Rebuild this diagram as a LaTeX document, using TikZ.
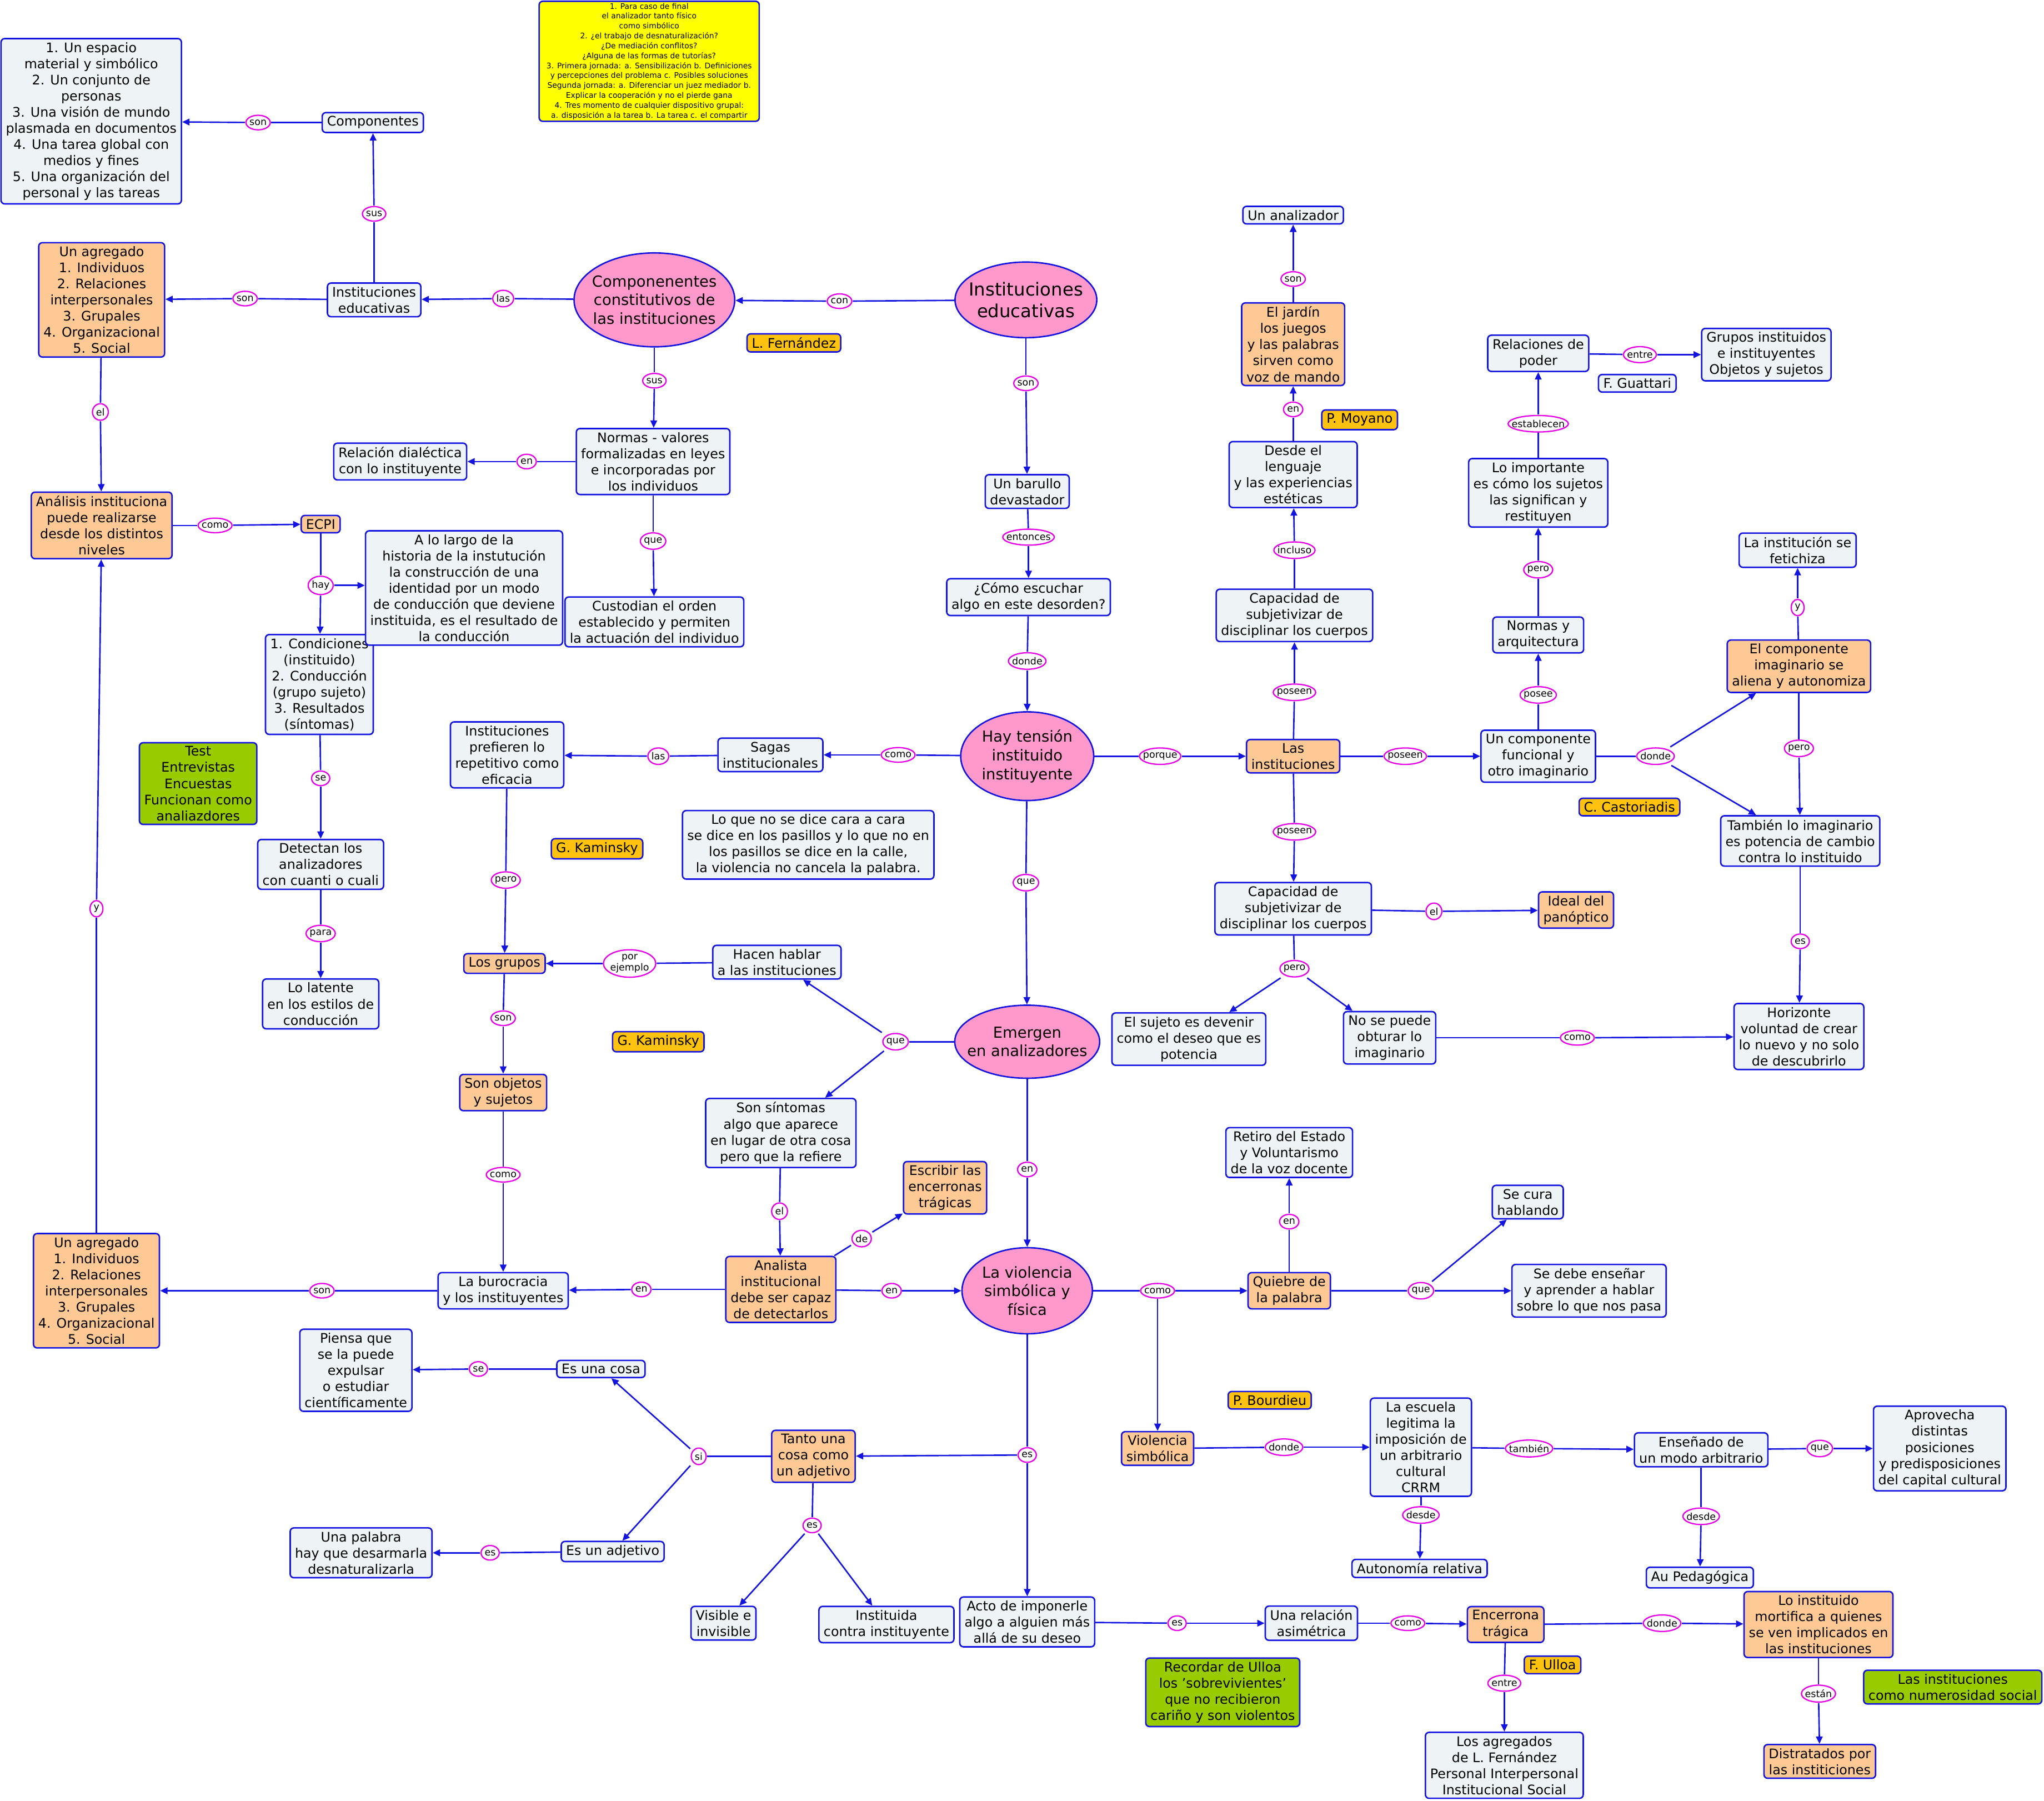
\documentclass[tikz,border=0pt]{standalone}
\usepackage{fontspec}
\setmainfont{DejaVu Sans}
\usepackage{tikz}
\usetikzlibrary{shapes.geometric, arrows.meta, calc}

\definecolor{cmblue}{RGB}{20,20,225}
\definecolor{boxfill}{RGB}{238,243,246}
\definecolor{orangefill}{RGB}{255,201,150}
\definecolor{authorfill}{RGB}{255,194,14}
\definecolor{pinkfill}{RGB}{255,153,204}
\definecolor{greenfill}{RGB}{153,204,0}
\definecolor{notefill}{RGB}{255,255,0}
\definecolor{linkmag}{RGB}{230,0,230}

\begin{document}
\begin{tikzpicture}[
    x=0.025cm, y=-0.025cm,
    >={Triangle[length=4pt,width=3.6pt]},
    cbox/.style={
        draw=cmblue,
        fill=boxfill,
        rounded corners=2pt,
        align=center,
        inner xsep=2.6pt,
        inner ysep=2pt,
        line width=0.8pt,
        font=\fontsize{7.2}{8.8}\selectfont
    },
    obox/.style={cbox, fill=orangefill},
    abox/.style={cbox, fill=authorfill},
    gbox/.style={cbox, fill=greenfill},
    ebox/.style={
        ellipse,
        draw=cmblue,
        fill=pinkfill,
        align=center,
        inner sep=0pt,
        line width=0.8pt,
        font=\fontsize{8.3}{10.2}\selectfont
    },
    lnk/.style={
        rectangle,
        fill=white,
        align=center,
        inner xsep=2.3pt,
        inner ysep=2.8pt,
        font=\fontsize{5.3}{6}\selectfont,
        path picture={
            \draw[draw=linkmag, line width=0.7pt]
            let \p1=(path picture bounding box.north east),
                \p2=(path picture bounding box.center) in
            (\p2) ellipse [x radius={\x1-\x2-0.35pt}, y radius={\y1-\y2-0.35pt}];
        }
    },
    every edge/.style={draw=cmblue, line width=0.8pt}
]
\useasboundingbox (0,0) rectangle (1568,1381);

% upper left
\node[cbox] (esp) at (70,93) {1. Un espacio\\material y simbólico\\2. Un conjunto de\\personas\\3. Una visión de mundo\\plasmada en documentos\\4. Una tarea global con\\medios y fines\\5. Una organización del\\personal y las tareas};
\node[cbox] (comp) at (286,94) {Componentes};
\node[cbox] (ied) at (287,230) {Instituciones\\educativas};
\node[obox] (agr1) at (78,230) {Un agregado\\1. Individuos\\2. Relaciones\\interpersonales\\3. Grupales\\4. Organizacional\\5. Social};
\node[ebox, inner xsep=-3pt, minimum height=1.8cm] (compc) at (502,230) {Componenentes\\constitutivos de\\las instituciones};
\node[ebox, inner xsep=-3.8pt, minimum height=1.45cm, font=\fontsize{9.8}{11.7}\selectfont] (instE) at (787,230) {Instituciones\\educativas};
\node[abox] (lfer) at (609,263) {L. Fernández};
\node[draw=cmblue, fill=notefill, rounded corners=2pt, line width=0.8pt, align=center, inner sep=1pt,
      minimum width=4.22cm, minimum height=2.3cm, font=\fontsize{4.2}{5.4}\selectfont] (nota) at (498,47)
      {1. Para caso de final\\el analizador tanto físico\\como simbólico\\2. ¿el trabajo de desnaturalización?\\¿De mediación conflitos?\\¿Alguna de las formas de tutorías?\\3. Primera jornada: a. Sensibilización b. Definiciones\\y percepciones del problema c. Posibles soluciones\\Segunda jornada: a. Diferenciar un juez mediador b.\\Explicar la cooperación y no el pierde gana\\4. Tres momento de cualquier dispositivo grupal:\\a. disposición a la tarea b. La tarea c. el compartir};
\node[cbox] (normas) at (501,354) {Normas - valores\\formalizadas en leyes\\e incorporadas por\\los individuos};
\node[cbox] (reld) at (307,354) {Relación dialéctica\\con lo instituyente};
\node[cbox] (custod) at (502,477) {Custodian el orden\\establecido y permiten\\la actuación del individuo};
\node[obox] (anal) at (78,403) {Análisis instituciona\\puede realizarse\\desde los distintos\\niveles};
\node[obox] (ecpi) at (246,402) {ECPI};
\node[cbox] (cond) at (245,525) {1. Condiciones\\(instituido)\\2. Conducción\\(grupo sujeto)\\3. Resultados\\(síntomas)};
\node[cbox] (alo) at (356,451) {A lo largo de la\\historia de la instutución\\la construcción de una\\identidad por un modo\\de conducción que deviene\\instituida, es el resultado de\\la conducción};
\node[gbox] (test) at (152,601) {Test\\Entrevistas\\Encuestas\\Funcionan como\\analiazdores};
\node[cbox] (detect) at (246,663) {Detectan los\\analizadores\\con cuanti o cuali};
\node[cbox] (latente) at (246,770) {Lo latente\\en los estilos de\\conducción};
\node[obox] (agr2) at (74,990) {Un agregado\\1. Individuos\\2. Relaciones\\interpersonales\\3. Grupales\\4. Organizacional\\5. Social};

% centre
\node[cbox] (barullo) at (788,377) {Un barullo\\devastador};
\node[cbox] (comoesc) at (789,458) {¿Cómo escuchar\\algo en este desorden?};
\node[ebox, minimum width=2.55cm, minimum height=1.7cm] (tension) at (788,580) {Hay tensión\\instituido\\instituyente};
\node[cbox] (sagas) at (591,579) {Sagas\\institucionales};
\node[cbox] (pref) at (389,579) {Instituciones\\prefieren lo\\repetitivo como\\eficacia};
\node[abox] (gk1) at (458,651) {G. Kaminsky};
\node[cbox] (loque) at (620,648) {Lo que no se dice cara a cara\\se dice en los pasillos y lo que no en\\los pasillos se dice en la calle,\\la violencia no cancela la palabra.};
\node[obox] (grupos) at (387,739) {Los grupos};
\node[cbox] (hacen) at (596,738) {Hacen hablar\\a las instituciones};
\node[ebox, inner xsep=-4.8pt, minimum height=1.4cm] (emergen) at (788,799) {Emergen\\en analizadores};
\node[abox] (gk2) at (505,799) {G. Kaminsky};
\node[obox] (objetos) at (386,838) {Son objetos\\y sujetos};
\node[cbox] (buro) at (386,990) {La burocracia\\y los instituyentes};
\node[cbox] (sint) at (599,869) {Son síntomas\\algo que aparece\\en lugar de otra cosa\\pero que la refiere};
\node[obox] (analista) at (599,989) {Analista\\institucional\\debe ser capaz\\de detectarlos};
\node[obox] (escribir) at (725,911) {Escribir las\\encerronas\\trágicas};
\node[ebox, minimum width=2.5cm, minimum height=1.65cm] (violencia) at (788,990) {La violencia\\simbólica y\\física};

% lower part
\node[obox] (quiebre) at (989,990) {Quiebre de\\la palabra};
\node[cbox] (retiro) at (989,884) {Retiro del Estado\\y Voluntarismo\\de la voz docente};
\node[cbox] (secura) at (1172,922) {Se cura\\hablando};
\node[cbox] (sedebe) at (1219,990) {Se debe enseñar\\y aprender a hablar\\sobre lo que nos pasa};
\node[abox] (pbou) at (974,1074) {P. Bourdieu};
\node[obox] (violS) at (888,1111) {Violencia\\simbólica};
\node[cbox] (escuela) at (1090,1110) {La escuela\\legitima la\\imposición de\\un arbitrario\\cultural\\CRRM};
\node[cbox] (ensenado) at (1305,1112) {Enseñado de\\un modo arbitrario};
\node[cbox] (aprovecha) at (1488,1111) {Aprovecha\\distintas\\posiciones\\y predisposiciones\\del capital cultural};
\node[cbox] (autonomia) at (1089,1203) {Autonomía relativa};
\node[cbox] (aupeda) at (1304,1210) {Au Pedagógica};
\node[obox] (tanto) at (624,1117) {Tanto una\\cosa como\\un adjetivo};
\node[cbox] (escosa) at (461,1050) {Es una cosa};
\node[cbox] (piensa) at (273,1051) {Piensa que\\se la puede\\expulsar\\o estudiar\\científicamente};
\node[cbox] (esadj) at (470,1190) {Es un adjetivo};
\node[cbox] (palabra) at (277,1191) {Una palabra\\hay que desarmarla\\desnaturalizarla};
\node[cbox] (visible) at (555,1245) {Visible e\\invisible};
\node[cbox] (instituida) at (680,1246) {Instituida\\contra instituyente};
\node[cbox] (acto) at (788,1244) {Acto de imponerle\\algo a alguien más\\allá de su deseo};
\node[cbox] (relacion) at (1006,1245) {Una relación\\asimétrica};
\node[obox] (encerrona) at (1155,1246) {Encerrona\\trágica};
\node[gbox] (recordar) at (938,1298) {Recordar de Ulloa\\los 'sobrevivientes'\\que no recibieron\\cariño y son violentos};
\node[abox] (fulloa) at (1191,1277) {F. Ulloa};
\node[cbox] (agregados) at (1154,1354) {Los agregados\\de L. Fernández\\Personal Interpersonal\\Institucional Social};
\node[obox] (mortifica) at (1395,1246) {Lo instituido\\mortifica a quienes\\se ven implicados en\\las instituciones};
\node[obox] (distratados) at (1396,1351) {Distratados por\\las institiciones};
\node[gbox] (numerosidad) at (1498,1294) {Las instituciones\\como numerosidad social};

% right part
\node[obox] (lasinst) at (992,580) {Las\\instituciones};
\node[cbox] (cap1) at (993,472) {Capacidad de\\subjetivizar de\\disciplinar los cuerpos};
\node[cbox] (desde) at (992,364) {Desde el\\lenguaje\\y las experiencias\\estéticas};
\node[obox] (jardin) at (992,264) {El jardín\\los juegos\\y las palabras\\sirven como\\voz de mando};
\node[cbox] (analizador) at (992,165) {Un analizador};
\node[abox] (pmoy) at (1043,322) {P. Moyano};
\node[cbox] (cap2) at (992,697) {Capacidad de\\subjetivizar de\\disciplinar los cuerpos};
\node[obox] (ideal) at (1209,698) {Ideal del\\panóptico};
\node[cbox] (sujeto) at (912,797) {El sujeto es devenir\\como el deseo que es\\potencia};
\node[cbox] (nosepuede) at (1066,796) {No se puede\\obturar lo\\imaginario};
\node[cbox] (horizonte) at (1380,795) {Horizonte\\voluntad de crear\\lo nuevo y no solo\\de descubrirlo};
\node[cbox] (funcional) at (1180,580) {Un componente\\funcional y\\otro imaginario};
\node[cbox] (normasy) at (1180,487) {Normas y\\arquitectura};
\node[cbox] (loimp) at (1180,378) {Lo importante\\es cómo los sujetos\\las significan y\\restituyen};
\node[cbox] (relpoder) at (1180,271) {Relaciones de\\poder};
\node[cbox] (gruposinst) at (1355,272) {Grupos instituidos\\e instituyentes\\Objetos y sujetos};
\node[cbox] (fgua) at (1256,294) {F. Guattari};
\node[obox] (elcomp) at (1380,511) {El componente\\imaginario se\\aliena y autonomiza};
\node[cbox] (fetichiza) at (1379,422) {La institución se\\fetichiza};
\node[cbox] (tambien) at (1381,645) {También lo imaginario\\es potencia de cambio\\contra lo instituido};
\node[abox] (ccas) at (1250,619) {C. Castoriadis};

% linking words
\node[lnk] (l1) at (198,94) {son};
\node[lnk] (l2) at (287,164) {sus};
\node[lnk] (l3) at (188,229) {son};
\node[lnk] (l4) at (386,229) {las};
\node[lnk] (l5) at (644,231) {con};
\node[lnk] (l6) at (502,292) {sus};
\node[lnk] (l7) at (404,354) {en};
\node[lnk] (l8) at (501,415) {que};
\node[lnk] (l9) at (77,316) {el};
\node[lnk] (l10) at (165,403) {como};
\node[lnk] (l11) at (246,449) {hay};
\node[lnk] (l12) at (246,597) {se};
\node[lnk] (l13) at (246,716) {para};
\node[lnk] (l14) at (74,697) {y};
\node[lnk] (l15) at (787,294) {son};
\node[lnk] (l16) at (789,412) {entonces};
\node[lnk] (l17) at (788,507) {donde};
\node[lnk] (l18) at (689,579) {como};
\node[lnk] (l19) at (505,580) {las};
\node[lnk] (l20) at (388,675) {pero};
\node[lnk, inner xsep=4pt] (l21) at (483,739) {por\\ejemplo};
\node[lnk] (l22) at (787,677) {que};
\node[lnk] (l23) at (687,799) {que};
\node[lnk] (l24) at (386,781) {son};
\node[lnk] (l25) at (386,901) {como};
\node[lnk] (l26) at (598,929) {el};
\node[lnk] (l27) at (661,950) {de};
\node[lnk] (l28) at (492,989) {en};
\node[lnk] (l29) at (247,990) {son};
\node[lnk] (l30) at (684,990) {en};
\node[lnk] (l31) at (788,897) {en};
\node[lnk] (l32) at (888,990) {como};
\node[lnk] (l33) at (989,937) {en};
\node[lnk] (l34) at (1090,990) {que};
\node[lnk] (l35) at (985,1110) {donde};
\node[lnk] (l36) at (1173,1111) {también};
\node[lnk] (l37) at (1396,1111) {que};
\node[lnk] (l38) at (1090,1162) {desde};
\node[lnk] (l39) at (1305,1163) {desde};
\node[lnk] (l40) at (788,1116) {es};
\node[lnk] (l41) at (536,1117) {si};
\node[lnk] (l42) at (367,1050) {se};
\node[lnk] (l43) at (376,1191) {es};
\node[lnk] (l44) at (623,1170) {es};
\node[lnk] (l45) at (903,1245) {es};
\node[lnk] (l46) at (1080,1245) {como};
\node[lnk] (l47) at (1154,1291) {entre};
\node[lnk] (l48) at (1275,1245) {donde};
\node[lnk] (l49) at (1395,1299) {están};
\node[lnk] (l50) at (890,580) {porque};
\node[lnk] (l51) at (993,531) {poseen};
\node[lnk] (l52) at (993,422) {incluso};
\node[lnk] (l53) at (992,314) {en};
\node[lnk] (l54) at (992,214) {son};
\node[lnk] (l55) at (993,638) {poseen};
\node[lnk] (l56) at (1100,699) {el};
\node[lnk] (l57) at (993,743) {pero};
\node[lnk] (l58) at (1210,796) {como};
\node[lnk] (l59) at (1078,580) {poseen};
\node[lnk] (l60) at (1180,533) {posee};
\node[lnk] (l61) at (1180,437) {pero};
\node[lnk] (l62) at (1180,325) {establecen};
\node[lnk] (l63) at (1258,272) {entre};
\node[lnk] (l64) at (1270,580) {donde};
\node[lnk] (l65) at (1379,466) {y};
\node[lnk] (l66) at (1380,574) {pero};
\node[lnk] (l67) at (1381,722) {es};

\path[->]
(comp) edge[-] (l1) (l1) edge (esp)
(ied) edge[-] (l2) (l2) edge (comp)
(ied) edge[-] (l3) (l3) edge (agr1)
(compc) edge[-] (l4) (l4) edge (ied)
(instE) edge[-] (l5) (l5) edge (compc)
(compc) edge[-] (l6) (l6) edge (normas)
(normas) edge[-] (l7) (l7) edge (reld)
(normas) edge[-] (l8) (l8) edge (custod)
(agr1) edge[-] (l9) (l9) edge (anal)
(anal) edge[-] (l10) (l10) edge (ecpi)
(ecpi) edge[-] (l11) (l11) edge (cond)
(l11) edge (l11 -| alo.west)
(cond) edge[-] (l12) (l12) edge (detect)
(detect) edge[-] (l13) (l13) edge (latente)
(agr2) edge[-] (l14) (l14) edge (anal);

\path[->]
(instE) edge[-] (l15) (l15) edge (barullo)
(barullo) edge[-] (l16) (l16) edge (comoesc)
(comoesc) edge[-] (l17) (l17) edge (tension)
(tension) edge[-] (l18) (l18) edge (sagas)
(sagas) edge[-] (l19) (l19) edge (pref)
(pref) edge[-] (l20) (l20) edge (grupos)
(hacen) edge[-] (l21) (l21) edge (grupos)
(tension) edge[-] (l22) (l22) edge (emergen)
(emergen) edge[-] (l23) (l23) edge (hacen) (l23) edge (sint)
(grupos) edge[-] (l24) (l24) edge (objetos)
(objetos) edge[-] (l25) (l25) edge (buro)
(sint) edge[-] (l26) (l26) edge (analista)
(analista) edge[-] (l27) (l27) edge (escribir)
(analista) edge[-] (l28) (l28) edge (buro)
(buro) edge[-] (l29) (l29) edge (agr2)
(analista) edge[-] (l30) (l30) edge (violencia)
(emergen) edge[-] (l31) (l31) edge (violencia);

\path[->]
(violencia) edge[-] (l32) (l32) edge (quiebre) (l32) edge (violS)
(quiebre) edge[-] (l33) (l33) edge (retiro)
(quiebre) edge[-] (l34) (l34) edge (secura) (l34) edge (sedebe)
(violS) edge[-] (l35) (l35) edge (escuela)
(escuela) edge[-] (l36) (l36) edge (ensenado)
(ensenado) edge[-] (l37) (l37) edge (aprovecha)
(escuela) edge[-] (l38) (l38) edge (autonomia)
(ensenado) edge[-] (l39) (l39) edge (aupeda)
(violencia) edge[-] (l40) (l40) edge (tanto) (l40) edge (acto)
(tanto) edge[-] (l41) (l41) edge (escosa) (l41) edge (esadj)
(escosa) edge[-] (l42) (l42) edge (piensa)
(esadj) edge[-] (l43) (l43) edge (palabra)
(tanto) edge[-] (l44) (l44) edge (visible) (l44) edge (instituida)
(acto) edge[-] (l45) (l45) edge (relacion)
(relacion) edge[-] (l46) (l46) edge (encerrona)
(encerrona) edge[-] (l47) (l47) edge (agregados)
(encerrona) edge[-] (l48) (l48) edge (mortifica)
(mortifica) edge[-] (l49) (l49) edge (distratados);

\path[->]
(tension) edge[-] (l50) (l50) edge (lasinst)
(lasinst) edge[-] (l51) (l51) edge (cap1)
(cap1) edge[-] (l52) (l52) edge (desde)
(desde) edge[-] (l53) (l53) edge (jardin)
(jardin) edge[-] (l54) (l54) edge (analizador)
(lasinst) edge[-] (l55) (l55) edge (cap2)
(cap2) edge[-] (l56) (l56) edge (ideal)
(cap2) edge[-] (l57) (l57) edge (sujeto) (l57) edge (nosepuede)
(nosepuede) edge[-] (l58) (l58) edge (horizonte)
(lasinst) edge[-] (l59) (l59) edge (funcional)
(funcional) edge[-] (l60) (l60) edge (normasy)
(normasy) edge[-] (l61) (l61) edge (loimp)
(loimp) edge[-] (l62) (l62) edge (relpoder)
(relpoder) edge[-] (l63) (l63) edge (gruposinst)
(funcional) edge[-] (l64) (l64) edge (elcomp) (l64) edge (tambien)
(elcomp) edge[-] (l65) (l65) edge (fetichiza)
(elcomp) edge[-] (l66) (l66) edge (tambien)
(tambien) edge[-] (l67) (l67) edge (horizonte);

\end{tikzpicture}
\end{document}
